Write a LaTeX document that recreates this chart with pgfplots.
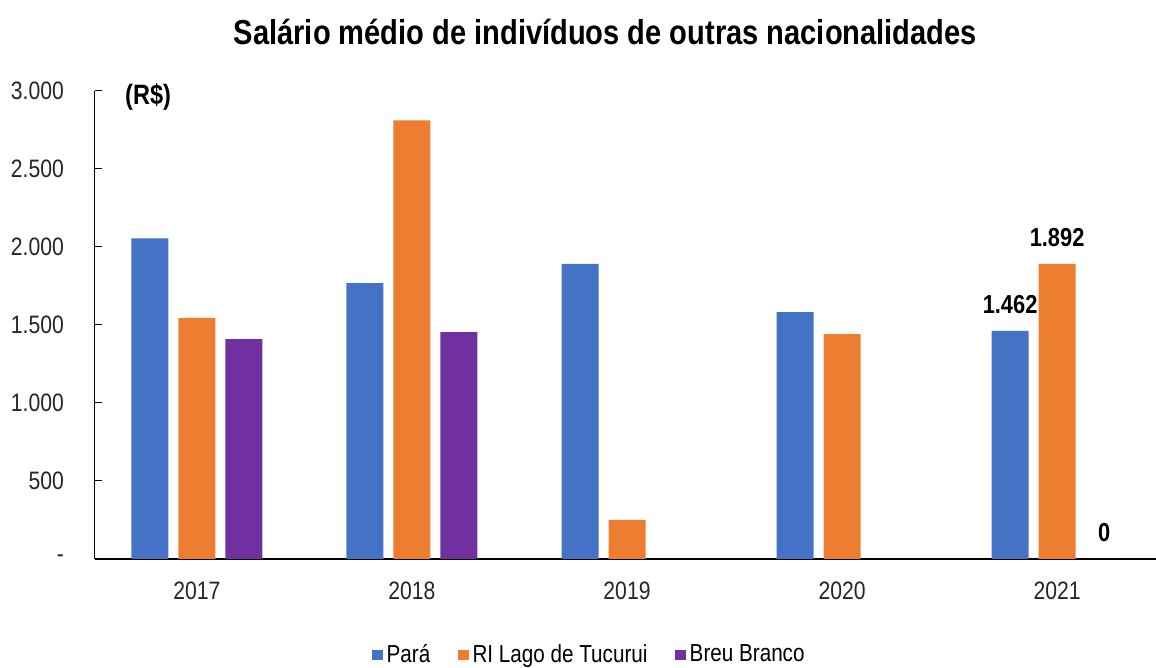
\documentclass[border=0pt]{standalone}
\usepackage{pgfplots}
\pgfplotsset{compat=1.18}
\usepackage{fontspec}
\setmainfont{Liberation Sans}[FakeStretch=0.84]
\definecolor{cblue}{HTML}{4472C4}
\definecolor{corange}{HTML}{ED7D31}
\definecolor{cpurple}{HTML}{7030A0}
\begin{document}
\begin{tikzpicture}
\begin{axis}[
  name=ax,
  scale only axis,
  width=530.5pt, height=234pt,
  xmin=-0.474, xmax=4.46,
  ymin=0, ymax=3000,
  axis x line=bottom, axis y line=left,
  x axis line style={-, line width=1.1pt},
  y axis line style={-, line width=0.5pt},
  ybar=5pt, bar width=18.5pt,
  xtick={0,1,2,3,4},
  xticklabels={2017,2018,2019,2020,2021},
  major x tick style={draw=none},
  extra x ticks={0.5,1.5,2.5,3.5},
  extra x tick labels={},
  extra x tick style={major tick length=3.5pt, tick align=inside, tick style={line width=0.8pt, black}},
  ytick={0,500,1000,1500,2000,2500,3000},
  yticklabels={-\hspace{5pt},500,1.000,1.500,2.000,2.500,3.000},
  major y tick style={black, line width=0.5pt},
  tick align=inside,
  major tick length=3.5pt,
  ticklabel style={font=\fontsize{12.6}{15}\selectfont, text=black!85},
  yticklabel style={xshift=-12pt},
  xticklabel style={yshift=-8pt},
  legend style={at={(0.467,-0.205)}, anchor=center, draw=none, legend columns=-1,
    font=\fontsize{12.3}{14}\selectfont, column sep=0pt, inner sep=1pt,
    /tikz/every even column/.append style={column sep=12pt}},
  legend image code/.code={\fill[#1] (0.06cm,-0.09cm) rectangle (0.24cm,0.09cm);},
  clip=false,
  point meta=explicit symbolic,
  nodes near coords={\pgfplotspointmeta},
  every node near coord/.append style={font=\bfseries\fontsize{13}{15}\selectfont, anchor=south, yshift=5pt, text=black},
]
\addplot[fill=cblue, draw=none] coordinates {(0,2055)[] (1,1769)[] (2,1891)[] (3,1583)[] (4,1462)[1.462]};
\addplot[fill=corange, draw=none] coordinates {(0,1545)[] (1,2812)[] (2,250)[] (3,1442)[] (4,1892)[1.892]};
\addplot[fill=cpurple, draw=none] coordinates {(0,1410)[] (1,1455)[] (4,0)[0]};
\legend{Pará,RI Lago de Tucurui,Breu Branco}
\node[font=\bfseries\fontsize{14}{16}\selectfont] at (rel axis cs:0.05,0.987) {(R\$)};
\node[font=\bfseries\fontsize{17.3}{20}\selectfont] at (rel axis cs:0.481,1.126) {Salário médio de indivíduos de outras nacionalidades};
\end{axis}
\pgfresetboundingbox
\path (ax.south west) ++(-47.5pt,-54.5pt) rectangle ++(578pt,334pt);
\end{tikzpicture}
\end{document}
